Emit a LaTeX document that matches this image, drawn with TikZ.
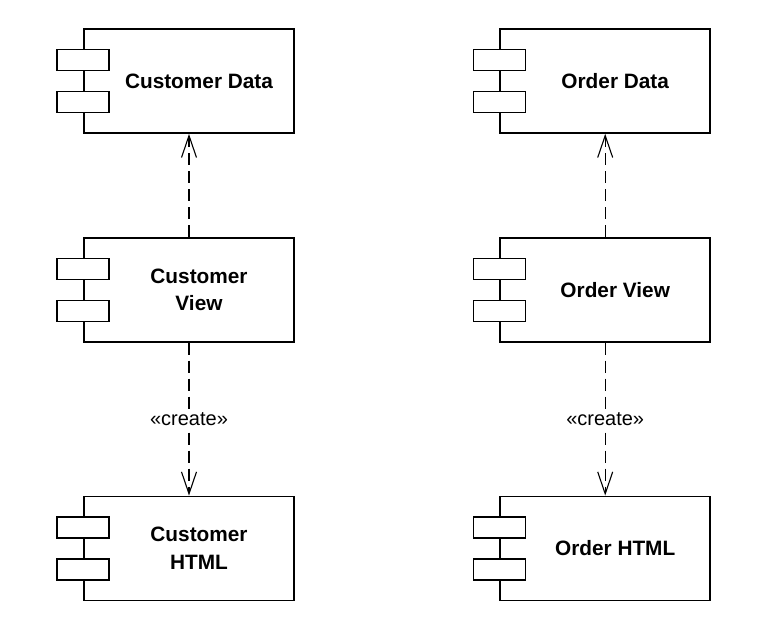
\documentclass[tikz,border=0pt]{standalone}
\usepackage{fontspec}
\setmainfont{Liberation Sans}
\usepackage{tikz}
\usetikzlibrary{positioning,arrows.meta}

\tikzset{
  comp/.style={draw, line width=1.7pt, minimum width=210pt, minimum height=104pt, inner sep=0pt},
  port/.style={draw, fill=white, line width=1.4pt, minimum width=52pt, minimum height=21pt, inner sep=0pt},
  complabel/.style={font=\fontsize{20.8}{27.5}\selectfont\bfseries, align=center},
  dep/.style={line width=1.1pt, dash pattern=on 12pt off 6pt,
    -{Straight Barb[length=22pt,width=15pt,line width=1.1pt]}},
  stereo/.style={fill=white, font=\fontsize{20}{24}\selectfont, inner sep=2pt}
}

% component box with its two ports
\newcommand{\Component}[3]{%
  \node[comp, #2] (#1) {};
  \node[port] (#1p1) at ([yshift=21pt]#1.west) {};
  \node[port] (#1p2) at ([yshift=-21pt]#1.west) {};
  \node[complabel] (#1l) at ([xshift=10pt]#1.center) {#3};
}

\begin{document}
\begin{tikzpicture}[x=1pt,y=1pt]
  \useasboundingbox (0,0) rectangle (757,-625);
  \Component{cdata}{at={(189,-81)}}{Customer Data}
  \Component{cview}{below=103pt of cdata}{Customer\\View}
  \Component{chtml}{below=153pt of cview}{Customer\\HTML}
  \Component{odata}{right=204.5pt of cdata}{Order Data}
  \Component{oview}{below=103pt of odata}{Order View}
  \Component{ohtml}{below=153pt of oview}{Order HTML}
  \draw[dep] (cview) -- (cdata);
  \draw[dep] (cview) -- node[stereo] (ccreate) {«create»} (chtml);
  \draw[dep] (oview) -- (odata);
  \draw[dep] (oview) -- node[stereo] (ocreate) {«create»} (ohtml);
\end{tikzpicture}
\end{document}
